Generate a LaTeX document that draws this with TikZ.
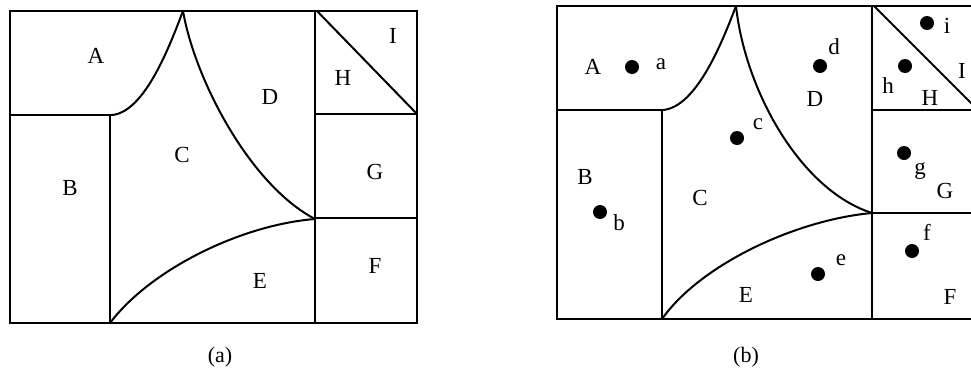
\documentclass[tikz,border=0pt]{standalone}
\usepackage{fontspec}
\setmainfont{Liberation Serif}
\begin{document}
\begin{tikzpicture}[x=1pt,y=-1pt,
  edge/.style={line width=2pt,line join=miter},
  lbl/.style={inner sep=0pt,font=\fontsize{23}{23}\selectfont},
  dotmark/.style={circle,fill=black,inner sep=0pt,minimum size=14pt},
  captxt/.style={inner sep=0pt,font=\fontsize{22}{22}\selectfont}]
\useasboundingbox (0,0) rectangle (971,389);
\clip (0,0) rectangle (971,389);
% ---------- panel (a) ----------
\draw[edge] (10,11) rectangle (417,323);
\draw[edge] (10,115) -- (112,115);
\draw[edge] (110,115) -- (110,323);
\draw[edge] (112,115) .. controls (145,112) and (170,45) .. (183,11);
\draw[edge] (183,11) .. controls (195,80) and (250,185) .. (315,219);
\draw[edge] (110,323) .. controls (150,270) and (240,225) .. (315,219);
\draw[edge] (315,11) -- (315,323);
\draw[edge] (315,114) -- (417,114);
\draw[edge] (315,218) -- (417,218);
\draw[edge] (317,11) -- (417,114);
\node[lbl] (A1) at (96,56) {A};
\node[lbl] (B1) at (70,188) {B};
\node[lbl] (C1) at (182,155) {C};
\node[lbl] (D1) at (270,97) {D};
\node[lbl] (E1) at (260,281) {E};
\node[lbl] (F1) at (375,266) {F};
\node[lbl] (G1) at (375,172) {G};
\node[lbl] (H1) at (343,78) {H};
\node[lbl] (I1) at (393,36) {I};
\node[captxt] (capa) at (220,357) {(a)};
% ---------- panel (b) ----------
\draw[edge] (557,6) rectangle (978,319);
\draw[edge] (557,110) -- (663,110);
\draw[edge] (662,110) -- (662,319);
\draw[edge] (663,110) .. controls (697,107) and (723,40) .. (736,6);
\draw[edge] (736,6) .. controls (745,90) and (800,190) .. (872,213);
\draw[edge] (662,319) .. controls (700,265) and (795,220) .. (872,213);
\draw[edge] (872,6) -- (872,319);
\draw[edge] (872,110) -- (978,110);
\draw[edge] (872,213) -- (978,213);
\draw[edge] (874,6) -- (978,110);
\node[lbl] (A2) at (593,67) {A};
\node[lbl] (B2) at (585,177) {B};
\node[lbl] (C2) at (700,198) {C};
\node[lbl] (D2) at (815,99) {D};
\node[lbl] (E2) at (746,295) {E};
\node[lbl] (F2) at (950,297) {F};
\node[lbl] (G2) at (945,191) {G};
\node[lbl] (H2) at (930,98) {H};
\node[lbl] (I2) at (962,71) {I};
\node[dotmark] (pa) at (632,67) {};
\node[dotmark] (pb) at (600,212) {};
\node[dotmark] (pc) at (737,138) {};
\node[dotmark] (pd) at (820,66) {};
\node[dotmark] (pe) at (818,274) {};
\node[dotmark] (pf) at (912,251) {};
\node[dotmark] (pg) at (904,153) {};
\node[dotmark] (ph) at (905,66) {};
\node[dotmark] (pi) at (927,23) {};
\node[lbl] (la) at (661,64) {a};
\node[lbl] (lb) at (619,223) {b};
\node[lbl] (lc) at (758,124) {c};
\node[lbl] (ld) at (834,47) {d};
\node[lbl] (le) at (841,260) {e};
\node[lbl] (lf) at (927,232) {f};
\node[lbl] (lg) at (920,171) {g};
\node[lbl] (lh) at (888,86) {h};
\node[lbl] (li) at (947,26) {i};
\node[captxt] (capb) at (746,357) {(b)};
\end{tikzpicture}
\end{document}
